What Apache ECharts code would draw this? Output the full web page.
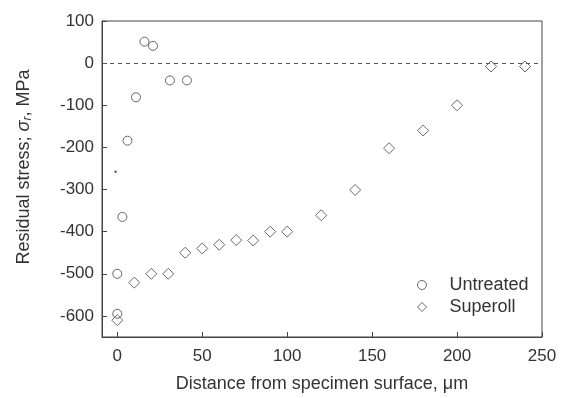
<!DOCTYPE html>
<html>
<head>
<meta charset="utf-8">
<script src="https://cdn.jsdelivr.net/npm/echarts@6/dist/echarts.min.js"></script>
<style>html,body{margin:0;padding:0;background:#fff}#c{width:565px;height:398px}</style>
</head>
<body>
<div id="c"></div>
<script>
// Untreated (circles): [distance µm, stress MPa]
const untreatedX = [0, 0, 3, 6, 11, 16, 21, 31, 41];
const untreatedY = [-595, -500, -365, -184, -81, 51, 41, -41, -41];
// Superoll (diamonds)
const superollX = [0, 10, 20, 30, 40, 50, 60, 70, 80, 90, 100, 120, 140, 160, 180, 200, 220, 240];
const superollY = [-610, -521, -500, -500, -450, -440, -431, -420, -421, -400, -400, -361, -301, -202, -160, -100, -8, -8];
// stray dot in the figure
const strayX = [-1];
const strayY = [-258];
const xTicks = [0, 50, 100, 150, 200, 250];
const yTicks = [-600, -500, -400, -300, -200, -100, 0, 100];

const zip = (xs, ys) => xs.map((x, i) => [x, ys[i]]);
const lineColor = '#444';
const textColor = '#333';
const font = 'Liberation Sans';

const chart = echarts.init(document.getElementById('c'));
chart.setOption({
  animation: false,
  backgroundColor: '#fff',
  grid: { left: 102, right: 23, top: 21, bottom: 59, show: true, borderColor: lineColor, borderWidth: 1 },
  xAxis: {
    type: 'value', min: -9, max: 250,
    name: 'Distance from specimen surface, \u03bcm',
    nameLocation: 'middle', nameGap: 38,
    nameTextStyle: { fontFamily: font, fontSize: 18, color: textColor },
    splitLine: { show: false },
    axisLine: { show: true, onZero: false, lineStyle: { color: lineColor } },
    axisTick: { show: true, inside: true, length: 5, customValues: xTicks, lineStyle: { color: lineColor } },
    axisLabel: { customValues: xTicks, fontFamily: font, fontSize: 17, color: textColor, margin: 11 }
  },
  yAxis: {
    type: 'value', min: -650, max: 100,
    name: '{n|Residual stress; }{s|\u03c3}{sub|r}{n|, MPa}',
    nameLocation: 'middle', nameGap: 68,
    nameTextStyle: {
      fontFamily: font, fontSize: 18, color: textColor, padding: [0, 0, 0, 24],
      rich: {
        n: { fontFamily: font, fontSize: 18, color: textColor },
        s: { fontFamily: font, fontSize: 18, fontStyle: 'italic', color: textColor },
        sub: { fontFamily: font, fontSize: 12, fontStyle: 'italic', color: textColor, padding: [8, 0, 0, 0] }
      }
    },
    splitLine: { show: false },
    axisLine: { show: true, onZero: false, lineStyle: { color: lineColor } },
    axisTick: { show: true, inside: true, length: 5, customValues: yTicks, lineStyle: { color: lineColor } },
    axisLabel: { customValues: yTicks, fontFamily: font, fontSize: 17, color: textColor, margin: 8 }
  },
  legend: {
    orient: 'vertical', left: 412, top: 271, itemGap: 4,
    itemWidth: 9, itemHeight: 9,
    textStyle: { fontFamily: font, fontSize: 18, color: textColor, padding: [0, 0, 0, 18] },
    data: [
      { name: 'Untreated', icon: 'circle', itemStyle: { color: '#fff', borderColor: lineColor, borderWidth: 1 } },
      { name: 'Superoll', icon: 'diamond', itemStyle: { color: '#fff', borderColor: lineColor, borderWidth: 1 } }
    ]
  },
  series: [
    {
      name: 'Untreated', type: 'scatter', symbol: 'circle', symbolSize: 9,
      itemStyle: { color: 'rgba(255,255,255,0)', borderColor: lineColor, borderWidth: 1 },
      data: zip(untreatedX, untreatedY),
      markLine: {
        silent: true, symbol: 'none', label: { show: false },
        lineStyle: { color: '#555', type: [4, 4], width: 1 },
        data: [{ yAxis: 0 }]
      }
    },
    {
      name: 'Superoll', type: 'scatter', symbol: 'diamond', symbolSize: 11,
      itemStyle: { color: 'rgba(255,255,255,0)', borderColor: lineColor, borderWidth: 1 },
      data: zip(superollX, superollY)
    },
    {
      name: 'dot', type: 'scatter', symbol: 'circle', symbolSize: 2.5,
      itemStyle: { color: '#333' },
      data: zip(strayX, strayY)
    }
  ]
});
</script>
</body>
</html>
